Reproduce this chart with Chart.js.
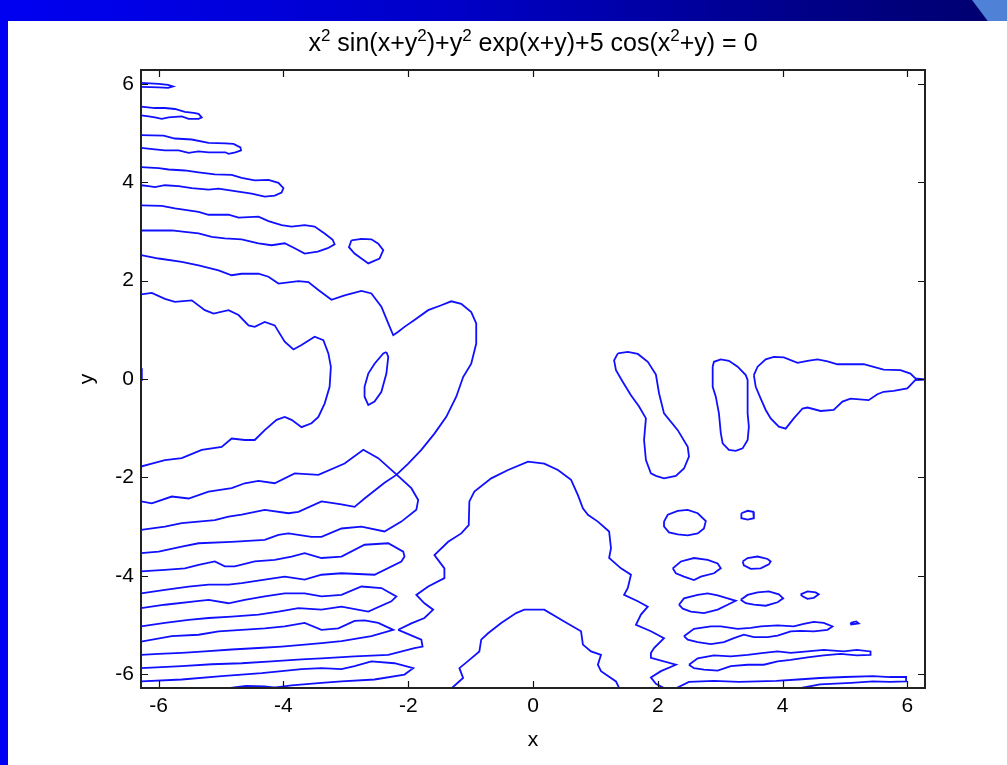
<!DOCTYPE html>
<html lang="en">
<head>
<meta charset="UTF-8">
<title>Implicit plot</title>
<script src="https://cdn.jsdelivr.net/npm/chart.js"></script>
<style>
  body { margin: 0; background: #fff; width: 1007px; height: 765px; overflow: hidden; position: relative; }
  #leftBar { position: absolute; left: 0; top: 0; width: 8px; height: 765px; background: #0000f2; }
  #topBar { position: absolute; left: 0; top: 0; width: 1007px; height: 21px;
            background: linear-gradient(to right, #0000f2 0%, #0000c8 45%, #000088 80%, #00006e 100%); }
  #corner { position: absolute; left: 972px; top: 0; width: 35px; height: 21px; background: #4f82d6;
            clip-path: polygon(0 0, 100% 0, 100% 100%, 45% 100%); }
  #chart { position: absolute; left: 0; top: 0; }
</style>
</head>
<body>
<div id="leftBar"></div>
<div id="topBar"></div>
<div id="corner"></div>
<canvas id="chart" width="1007" height="765"></canvas>
<script>
// title pieces: [text, is superscript]
const titleParts = [['x', false], ['2', true], [' sin(x+y', false], ['2', true], [')+y', false], ['2', true],
  [' exp(x+y)+5 cos(x', false], ['2', true], ['+y) = 0', false]];

// tick values
const xTickValues = [-6, -4, -2, 0, 2, 4, 6];
const yTickValues = [-6, -4, -2, 0, 2, 4, 6];

// contour pieces, [x, y]
const stripeTop0 = [[-6.283,6.02],[-6.0,6.0],[-5.85,5.98],[-5.77,5.95],[-5.85,5.92],[-6.0,5.93],[-6.283,5.94]];
const stripeTop1 = [[-6.283,5.54],[-6.06,5.51],[-5.90,5.51],[-5.74,5.49],[-5.58,5.43],[-5.44,5.41],[-5.36,5.39],[-5.31,5.32],[-5.36,5.29],[-5.52,5.29],[-5.63,5.34],[-5.84,5.32],[-5.95,5.29],[-6.06,5.32],[-6.16,5.34],[-6.283,5.36]];
const stripeTop2 = [[-6.283,4.96],[-5.92,4.95],[-5.74,4.89],[-5.47,4.87],[-5.20,4.80],[-4.93,4.79],[-4.80,4.78],[-4.69,4.71],[-4.68,4.65],[-4.77,4.61],[-4.88,4.58],[-4.93,4.61],[-5.20,4.61],[-5.36,4.63],[-5.52,4.60],[-5.68,4.65],[-5.90,4.65],[-6.06,4.67],[-6.283,4.70]];
const stripeTop3 = [[-6.283,4.31],[-6.00,4.29],[-5.84,4.26],[-5.58,4.24],[-5.36,4.20],[-5.10,4.16],[-4.83,4.15],[-4.67,4.09],[-4.46,4.04],[-4.24,4.05],[-4.08,3.99],[-4.00,3.88],[-4.03,3.79],[-4.14,3.73],[-4.30,3.71],[-4.51,3.77],[-4.83,3.83],[-5.04,3.87],[-5.20,3.85],[-5.47,3.88],[-5.68,3.92],[-5.90,3.94],[-6.06,3.90],[-6.16,3.92],[-6.283,3.94]];
const stripeTop4 = [[-6.283,3.53],[-5.95,3.52],[-5.74,3.47],[-5.36,3.40],[-5.20,3.34],[-4.88,3.34],[-4.72,3.28],[-4.40,3.30],[-4.24,3.21],[-4.03,3.13],[-3.87,3.10],[-3.66,3.13],[-3.50,3.10],[-3.34,2.96],[-3.21,2.83],[-3.18,2.74],[-3.29,2.66],[-3.45,2.59],[-3.66,2.55],[-3.82,2.66],[-3.98,2.76],[-4.19,2.72],[-4.40,2.76],[-4.67,2.84],[-4.94,2.86],[-5.15,2.89],[-5.36,2.96],[-5.58,2.99],[-5.79,3.02],[-6.00,3.02],[-6.283,3.02]];
const ringUpper = [[-2.91,2.82],[-2.75,2.85],[-2.59,2.84],[-2.48,2.75],[-2.40,2.62],[-2.46,2.45],[-2.64,2.35],[-2.75,2.45],[-2.86,2.55],[-2.95,2.68],[-2.91,2.82]];
const lobeCurve = [[-6.283,2.52],[-6.00,2.45],[-5.63,2.38],[-5.36,2.31],[-5.04,2.21],[-4.83,2.11],[-4.67,2.14],[-4.40,2.14],[-4.24,2.08],[-4.08,1.94],[-3.76,1.99],[-3.60,1.97],[-3.44,1.81],[-3.23,1.61],[-3.02,1.70],[-2.75,1.79],[-2.59,1.74],[-2.43,1.47],[-2.32,1.13],[-2.24,0.89],[-2.16,0.96],[-2.06,1.06],[-1.90,1.20],[-1.68,1.40],[-1.47,1.50],[-1.31,1.58],[-1.15,1.53],[-0.99,1.36],[-0.91,1.13],[-0.91,0.72],[-0.99,0.31],[-1.12,0.04],[-1.23,-0.36],[-1.39,-0.77],[-1.58,-1.11],[-1.79,-1.44],[-2.00,-1.72],[-2.19,-1.95],[-2.38,-2.11],[-2.70,-2.43],[-2.86,-2.60],[-3.07,-2.55],[-3.39,-2.49],[-3.76,-2.70],[-3.92,-2.73],[-4.30,-2.66],[-4.67,-2.76],[-4.88,-2.80],[-5.10,-2.87],[-5.63,-2.93],[-5.90,-3.00],[-6.283,-3.07]];
const bigLeftLoop = [[-6.283,1.72],[-6.11,1.75],[-5.90,1.63],[-5.74,1.57],[-5.47,1.60],[-5.26,1.40],[-5.12,1.33],[-4.88,1.40],[-4.72,1.30],[-4.56,1.09],[-4.46,1.06],[-4.30,1.16],[-4.14,1.09],[-3.98,0.76],[-3.84,0.60],[-3.71,0.69],[-3.50,0.86],[-3.36,0.79],[-3.28,0.52],[-3.24,0.25],[-3.26,-0.16],[-3.34,-0.50],[-3.44,-0.77],[-3.55,-0.90],[-3.71,-0.98],[-3.87,-0.83],[-3.98,-0.77],[-4.11,-0.83],[-4.30,-1.04],[-4.46,-1.24],[-4.62,-1.24],[-4.83,-1.21],[-4.99,-1.38],[-5.31,-1.44],[-5.63,-1.61],[-5.90,-1.65],[-6.11,-1.72],[-6.283,-1.78]];
const ovalMid = [[-2.35,0.55],[-2.32,0.45],[-2.35,0.11],[-2.43,-0.26],[-2.54,-0.46],[-2.64,-0.53],[-2.70,-0.36],[-2.70,-0.16],[-2.64,0.11],[-2.54,0.31],[-2.40,0.52],[-2.35,0.55]];
const edgeMark = [[-6.27,0.22],[-6.27,-0.04]];
const saddleCurve = [[-6.283,-2.49],[-6.11,-2.53],[-5.79,-2.39],[-5.52,-2.43],[-5.20,-2.29],[-4.83,-2.22],[-4.62,-2.12],[-4.40,-2.07],[-4.14,-2.12],[-3.82,-1.92],[-3.44,-1.95],[-3.02,-1.72],[-2.72,-1.44],[-2.48,-1.61],[-2.19,-1.94],[-1.95,-2.22],[-1.84,-2.46],[-1.87,-2.66],[-2.11,-2.90],[-2.38,-3.10],[-2.75,-3.00],[-3.07,-3.04],[-3.39,-3.21],[-3.55,-3.21],[-3.92,-3.14],[-4.08,-3.17],[-4.30,-3.27],[-4.83,-3.31],[-5.36,-3.34],[-5.63,-3.41],[-6.00,-3.51],[-6.283,-3.54]];
const stripeLow1 = [[-6.283,-3.91],[-5.90,-3.88],[-5.58,-3.85],[-5.36,-3.78],[-5.10,-3.71],[-4.94,-3.81],[-4.78,-3.81],[-4.46,-3.71],[-4.14,-3.68],[-3.87,-3.61],[-3.66,-3.54],[-3.39,-3.64],[-3.07,-3.61],[-2.70,-3.37],[-2.32,-3.34],[-2.08,-3.51],[-2.06,-3.61],[-2.11,-3.71],[-2.54,-3.98],[-3.07,-3.95],[-3.39,-3.98],[-3.66,-4.08],[-3.98,-4.02],[-4.30,-4.08],[-4.67,-4.15],[-4.88,-4.18],[-5.20,-4.18],[-5.52,-4.22],[-5.90,-4.29],[-6.283,-4.36]];
const stripeLow2 = [[-6.283,-4.66],[-5.90,-4.59],[-5.42,-4.52],[-5.20,-4.49],[-4.88,-4.56],[-4.62,-4.49],[-4.30,-4.42],[-3.98,-4.36],[-3.66,-4.36],[-3.39,-4.42],[-3.07,-4.39],[-2.75,-4.22],[-2.43,-4.25],[-2.19,-4.42],[-2.27,-4.52],[-2.64,-4.73],[-3.07,-4.63],[-3.39,-4.69],[-3.76,-4.66],[-4.08,-4.73],[-4.40,-4.79],[-4.83,-4.83],[-5.20,-4.86],[-5.52,-4.90],[-5.90,-4.96],[-6.283,-5.03]];
const stripeLow3 = [[-6.283,-5.34],[-5.79,-5.23],[-5.36,-5.20],[-5.04,-5.13],[-4.67,-5.10],[-4.30,-5.07],[-3.98,-5.03],[-3.66,-4.96],[-3.39,-5.10],[-3.12,-5.07],[-2.86,-4.92],[-2.70,-4.91],[-2.48,-4.96],[-2.24,-5.10],[-2.59,-5.23],[-3.07,-5.33],[-3.39,-5.37],[-3.66,-5.40],[-4.03,-5.44],[-4.40,-5.47],[-4.83,-5.50],[-5.26,-5.54],[-5.63,-5.57],[-6.00,-5.59],[-6.283,-5.61]];
const stripeLow4 = [[-2.16,-5.10],[-1.79,-5.30],[-1.77,-5.44],[-1.90,-5.47],[-2.32,-5.61],[-2.86,-5.64],[-3.39,-5.68],[-3.71,-5.70],[-4.19,-5.74],[-4.67,-5.78],[-5.15,-5.80],[-5.63,-5.84],[-6.283,-5.88]];
const stripeLow5 = [[-6.283,-6.15],[-5.63,-6.11],[-4.99,-6.04],[-4.35,-5.98],[-3.71,-5.90],[-3.39,-5.88],[-3.07,-5.90],[-2.86,-5.84],[-2.59,-5.74],[-2.22,-5.78],[-1.92,-5.88],[-2.06,-6.01],[-2.54,-6.11],[-3.07,-6.15],[-3.39,-6.18],[-3.87,-6.23],[-4.35,-6.31]];
const bottomBit = [[-4.85,-6.283],[-4.6,-6.24],[-4.3,-6.25],[-4.1,-6.283]];
const outerArch = [[-2.16,-5.10],[-1.95,-4.97],[-1.74,-4.86],[-1.60,-4.69],[-1.74,-4.56],[-1.87,-4.39],[-1.68,-4.22],[-1.42,-4.05],[-1.42,-3.85],[-1.58,-3.58],[-1.36,-3.31],[-1.15,-3.14],[-1.03,-2.97],[-1.02,-2.49],[-0.94,-2.29],[-0.67,-2.02],[-0.40,-1.85],[-0.08,-1.68],[0.18,-1.72],[0.40,-1.85],[0.61,-2.05],[0.72,-2.36],[0.80,-2.63],[0.88,-2.76],[1.04,-2.90],[1.22,-3.10],[1.25,-3.44],[1.22,-3.64],[1.41,-3.85],[1.57,-3.98],[1.52,-4.25],[1.46,-4.39],[1.68,-4.52],[1.84,-4.63],[1.73,-4.79],[1.65,-5.00],[1.89,-5.13],[2.10,-5.27],[1.94,-5.47],[1.89,-5.57],[1.89,-5.67],[2.29,-5.81],[2.05,-5.94],[1.89,-6.07],[1.97,-6.20],[2.10,-6.283]];
const innerArch = [[-1.30,-6.283],[-1.12,-6.08],[-1.18,-5.88],[-0.99,-5.68],[-0.86,-5.54],[-0.83,-5.30],[-0.72,-5.17],[-0.51,-4.96],[-0.27,-4.76],[-0.14,-4.69],[0.18,-4.69],[0.50,-4.93],[0.77,-5.13],[0.80,-5.40],[0.93,-5.54],[1.09,-5.61],[1.04,-5.81],[1.09,-5.94],[1.33,-6.15],[1.38,-6.283]];
const rightLoop1 = [[1.36,0.52],[1.52,0.55],[1.68,0.51],[1.84,0.35],[1.97,0.09],[2.02,-0.29],[2.10,-0.70],[2.32,-1.04],[2.48,-1.38],[2.50,-1.58],[2.42,-1.82],[2.29,-1.97],[2.10,-2.02],[1.97,-1.97],[1.89,-1.92],[1.81,-1.65],[1.78,-1.24],[1.81,-0.80],[1.70,-0.56],[1.57,-0.33],[1.44,-0.06],[1.33,0.18],[1.30,0.38],[1.36,0.52]];
const rightLoop2 = [[2.88,0.25],[2.90,0.35],[3.01,0.40],[3.14,0.37],[3.28,0.25],[3.41,0.08],[3.44,-0.02],[3.44,-0.70],[3.46,-0.97],[3.44,-1.24],[3.36,-1.41],[3.25,-1.46],[3.14,-1.44],[3.04,-1.31],[3.01,-1.10],[2.98,-0.70],[2.93,-0.36],[2.88,-0.16],[2.88,0.25]];
const rightLoop3 = [[3.54,0.08],[3.60,0.25],[3.73,0.40],[3.86,0.45],[4.02,0.44],[4.24,0.33],[4.40,0.37],[4.56,0.40],[4.72,0.36],[4.88,0.30],[5.30,0.30],[5.62,0.19],[5.89,0.18],[6.05,0.11],[6.13,0.01],[6.283,-0.01],[6.13,-0.02],[6.00,-0.19],[5.78,-0.24],[5.62,-0.26],[5.52,-0.31],[5.38,-0.43],[5.09,-0.40],[4.96,-0.46],[4.82,-0.63],[4.61,-0.65],[4.40,-0.58],[4.32,-0.60],[4.18,-0.80],[4.05,-1.01],[3.94,-0.97],[3.81,-0.80],[3.73,-0.63],[3.65,-0.40],[3.57,-0.16],[3.54,0.08]];
const ovalA = [[2.10,-2.90],[2.16,-2.76],[2.32,-2.68],[2.48,-2.66],[2.64,-2.73],[2.77,-2.89],[2.74,-3.04],[2.64,-3.14],[2.48,-3.18],[2.32,-3.16],[2.18,-3.12],[2.10,-3.00],[2.10,-2.90]];
const ovalB = [[3.34,-2.73],[3.44,-2.68],[3.53,-2.70],[3.54,-2.83],[3.44,-2.86],[3.34,-2.83],[3.34,-2.73]];
const ovalC = [[2.24,-3.85],[2.37,-3.71],[2.58,-3.64],[2.80,-3.68],[2.96,-3.75],[3.01,-3.85],[2.90,-3.95],[2.69,-4.02],[2.58,-4.09],[2.42,-4.02],[2.29,-3.95],[2.24,-3.85]];
const ovalD = [[3.36,-3.71],[3.44,-3.64],[3.60,-3.61],[3.76,-3.66],[3.81,-3.71],[3.78,-3.77],[3.65,-3.85],[3.49,-3.86],[3.38,-3.79],[3.36,-3.71]];
const ovalE = [[2.34,-4.59],[2.42,-4.46],[2.64,-4.39],[2.80,-4.36],[2.96,-4.40],[3.12,-4.46],[3.25,-4.51],[3.12,-4.59],[2.96,-4.69],[2.74,-4.76],[2.53,-4.73],[2.40,-4.67],[2.34,-4.59]];
const ovalF = [[3.33,-4.49],[3.44,-4.39],[3.60,-4.34],[3.78,-4.32],[3.94,-4.38],[4.01,-4.46],[3.92,-4.54],[3.73,-4.61],[3.54,-4.59],[3.41,-4.56],[3.33,-4.49]];
const ovalG = [[4.29,-4.38],[4.40,-4.32],[4.53,-4.34],[4.58,-4.38],[4.50,-4.45],[4.40,-4.47],[4.32,-4.42],[4.29,-4.38]];
const dotH = [[5.09,-4.96],[5.18,-4.93],[5.22,-4.97],[5.10,-4.99],[5.09,-4.96]];
const longLoop1 = [[2.42,-5.23],[2.58,-5.08],[2.85,-5.03],[3.01,-5.03],[3.28,-5.08],[3.49,-5.06],[3.65,-5.03],[3.92,-5.01],[4.18,-5.03],[4.34,-4.98],[4.50,-4.94],[4.66,-4.96],[4.80,-5.03],[4.72,-5.10],[4.50,-5.13],[4.29,-5.12],[4.13,-5.13],[3.92,-5.22],[3.76,-5.25],[3.54,-5.25],[3.38,-5.20],[3.22,-5.27],[3.06,-5.35],[2.85,-5.39],[2.64,-5.35],[2.48,-5.30],[2.42,-5.23]];
const longLoop2 = [[2.50,-5.81],[2.64,-5.68],[2.90,-5.62],[3.17,-5.64],[3.44,-5.61],[3.70,-5.57],[3.92,-5.54],[4.13,-5.57],[4.40,-5.54],[4.66,-5.51],[4.98,-5.54],[5.19,-5.51],[5.41,-5.54],[5.41,-5.61],[5.19,-5.62],[4.93,-5.59],[4.66,-5.62],[4.40,-5.66],[4.13,-5.71],[3.92,-5.74],[3.70,-5.81],[3.44,-5.81],[3.17,-5.84],[2.96,-5.93],[2.74,-5.91],[2.58,-5.88],[2.50,-5.81]];
const longLoop3 = [[2.30,-6.283],[2.50,-6.16],[2.90,-6.14],[3.30,-6.16],[3.90,-6.14],[4.25,-6.11],[4.60,-6.08],[5.00,-6.06],[5.45,-6.04],[5.72,-6.06],[5.98,-6.06],[5.98,-6.15],[5.72,-6.16],[5.45,-6.15],[5.10,-6.18],[4.60,-6.21],[4.30,-6.283]];

const curves = [stripeTop0, stripeTop1, stripeTop2, stripeTop3, stripeTop4, ringUpper, lobeCurve,
  bigLeftLoop, ovalMid, edgeMark, saddleCurve, stripeLow1, stripeLow2, stripeLow3, stripeLow4, stripeLow5,
  bottomBit, outerArch, innerArch, rightLoop1, rightLoop2, rightLoop3, ovalA, ovalB, ovalC, ovalD, ovalE,
  ovalF, ovalG, dotH, longLoop1, longLoop2, longLoop3];

const lineBlue = '#1010ff';
const fontFamily = 'Liberation Sans, Arial, sans-serif';

// inside tick marks and the box round the axes
const boxTicks = {
  id: 'boxTicks',
  afterDatasetsDraw(chart) {
    const {ctx, chartArea: a, scales: {x, y}} = chart;
    ctx.save();
    ctx.strokeStyle = '#111';
    ctx.lineWidth = 1.2;
    ctx.beginPath();
    xTickValues.forEach(v => {
      const px = Math.round(x.getPixelForValue(v)) + 0.5;
      ctx.moveTo(px, a.bottom); ctx.lineTo(px, a.bottom - 7);
      ctx.moveTo(px, a.top); ctx.lineTo(px, a.top + 7);
    });
    yTickValues.forEach(v => {
      const py = Math.round(y.getPixelForValue(v)) + 0.5;
      ctx.moveTo(a.left, py); ctx.lineTo(a.left + 7, py);
      ctx.moveTo(a.right, py); ctx.lineTo(a.right - 7, py);
    });
    ctx.stroke();
    ctx.lineWidth = 2;
    ctx.strokeStyle = '#222';
    ctx.strokeRect(a.left, a.top, a.right - a.left, a.bottom - a.top);
    ctx.restore();
  }
};

// title with raised exponents, centred over the axes
const supTitle = {
  id: 'supTitle',
  afterDraw(chart) {
    const {ctx, chartArea: a} = chart;
    const big = '25px ' + fontFamily, small = '17px ' + fontFamily;
    ctx.save();
    let total = 0;
    titleParts.forEach(([t, sup]) => { ctx.font = sup ? small : big; total += ctx.measureText(t).width; });
    let cx = (a.left + a.right) / 2 - total / 2;
    const base = 51;
    ctx.fillStyle = '#000';
    ctx.textBaseline = 'alphabetic';
    ctx.textAlign = 'left';
    titleParts.forEach(([t, sup]) => {
      ctx.font = sup ? small : big;
      ctx.fillText(t, cx, sup ? base - 10 : base);
      cx += ctx.measureText(t).width;
    });
    ctx.restore();
  }
};

const tickFont = {family: fontFamily, size: 21};

new Chart(document.getElementById('chart'), {
  type: 'scatter',
  data: {
    datasets: curves.map(pts => ({
      data: pts.map(([x, y]) => ({x, y})),
      showLine: true,
      pointRadius: 0,
      borderColor: lineBlue,
      borderWidth: 1.8,
      fill: false
    }))
  },
  options: {
    responsive: false,
    animation: false,
    layout: {padding: {left: 0, right: 82, top: 70, bottom: 0}},
    plugins: {
      legend: {display: false},
      tooltip: {enabled: false},
      title: {display: false}
    },
    scales: {
      x: {
        type: 'linear',
        min: -2 * Math.PI,
        max: 2 * Math.PI,
        afterBuildTicks: s => { s.ticks = xTickValues.map(v => ({value: v})); },
        afterFit: s => { s.height = 77; },
        grid: {display: false, drawTicks: false},
        border: {display: false},
        ticks: {color: '#000', font: tickFont, padding: 6, maxRotation: 0, callback: v => v},
        title: {display: true, text: 'x', color: '#000', font: tickFont, padding: {top: 0, bottom: 12}}
      },
      y: {
        type: 'linear',
        min: -2 * Math.PI,
        max: 2 * Math.PI,
        afterBuildTicks: s => { s.ticks = yTickValues.map(v => ({value: v})); },
        afterFit: s => { s.width = 141; },
        grid: {display: false, drawTicks: false},
        border: {display: false},
        ticks: {color: '#000', font: tickFont, padding: 7, callback: v => v},
        title: {display: true, text: 'y', color: '#000', font: tickFont, padding: {top: 75, bottom: 0}}
      }
    }
  },
  plugins: [boxTicks, supTitle]
});
</script>
</body>
</html>
